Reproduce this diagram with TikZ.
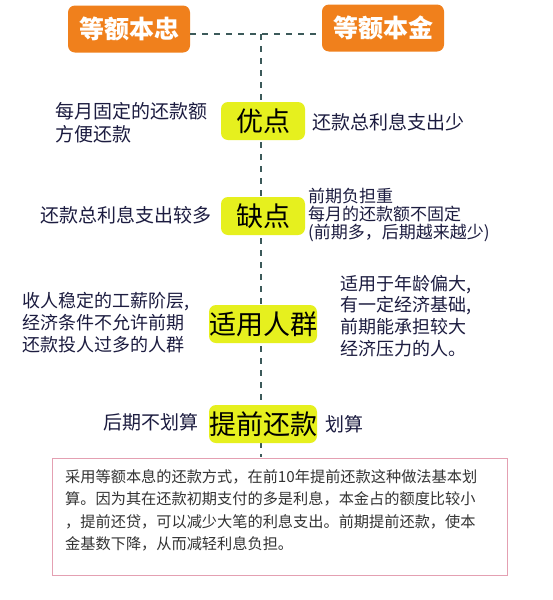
\documentclass[tikz,border=0pt]{standalone}
\usepackage{fontspec}
\setmainfont{Noto Sans CJK SC}
\newfontfamily\cjk{Noto Sans CJK SC}
\definecolor{orangebox}{RGB}{240,128,28}
\definecolor{yellowbox}{RGB}{230,240,30}
\definecolor{navytext}{RGB}{28,28,64}
\definecolor{dashcol}{RGB}{60,90,90}
\definecolor{pinkline}{RGB}{228,160,178}
\begin{document}
\begin{tikzpicture}[x=1pt,y=-1pt,
  titlebox/.style={fill=orangebox,rounded corners=7pt,minimum width=122pt,minimum height=47pt,
    text=white,font=\cjk\bfseries\fontsize{25}{28}\selectfont,inner sep=0pt},
  keybox/.style={fill=yellowbox,rounded corners=7pt,minimum height=38pt,inner sep=0pt,
    text=black,font=\cjk\fontsize{27}{30}\selectfont},
  side/.style={text=navytext,font=\cjk\fontsize{19}{23}\selectfont,align=left,inner sep=0pt},
  sidesm/.style={text=navytext,font=\cjk\fontsize{18}{22}\selectfont,align=left,inner sep=0pt},
  conn/.style={draw=dashcol,line width=1.1pt,dash pattern=on 6pt off 6pt}]
\useasboundingbox[fill=white] (0,0) rectangle (553,600);
% title boxes
\node[titlebox] (ebx) at (129,29) {等额本忠};
\node[titlebox] (ebj) at (383,28) {等额本金};
\draw[conn] (ebx.east |- 0,34) -- (ebj.west |- 0,34);
\coordinate (top) at (261,34);
\coordinate (bot) at (261,457);
\draw[conn] (top) -- (bot);
% key boxes
\node[keybox,minimum width=84pt] (yd) at (263,121) {优点};
\node[keybox,minimum width=84pt] (qd) at (263,216) {缺点};
\node[keybox,minimum width=103pt] (syrq) at (263,324) {适用人群};
\node[keybox,minimum width=103pt] (tqhk) at (263,424) {提前还款};
% side texts
\node[side,anchor=west] (yd-l) at (55,123) {每月固定的还款额\\方便还款};
\node[side,anchor=west] (yd-r) at (312,122) {还款总利息支出少};
\node[side,anchor=west] (qd-l) at (40,215) {还款总利息支出较多};
\node[text=navytext,font=\cjk\fontsize{17}{18.2}\selectfont,align=left,inner sep=0pt,anchor=west] (qd-r) at (308,215)
  {前期负担重\\每月的还款额不固定\\(前期多，后期越来越少)};
\node[sidesm,anchor=west] (sy-l) at (22,323) {收人稳定的工薪阶层,\\经济条件不允许前期\\还款投人过多的人群};
\node[text=navytext,font=\cjk\fontsize{18}{21.7}\selectfont,align=left,inner sep=0pt,anchor=west] (sy-r) at (340,316)
  {适用于年龄偏大,\\有一定经济基础,\\前期能承担较大\\经济压力的人。};
\node[side,anchor=west] (tq-l) at (103,422) {后期不划算};
\node[side,anchor=west] (tq-r) at (325,424) {划算};
% bottom note
\node[draw=pinkline,line width=0.9pt,minimum width=455pt,minimum height=117pt,inner sep=0pt] (note) at (279.5,516.5) {};
\node[text=black!80,font=\cjk\fontsize{15.2}{22.6}\selectfont,align=left,inner sep=0pt,anchor=north west] (notetext) at (65,469)
  {采用等额本息的还款方式，在前10年提前还款这种做法基本划\\算。因为其在还款初期支付的多是利息，本金占的额度比较小\\，提前还贷，可以减少大笔的利息支出。前期提前还款，使本\\金基数下降，从而减轻利息负担。};
\end{tikzpicture}
\end{document}
